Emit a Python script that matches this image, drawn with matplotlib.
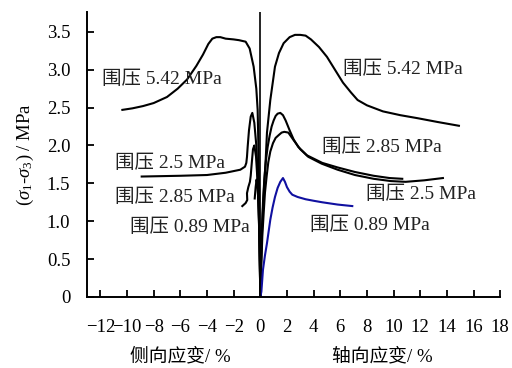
import matplotlib
matplotlib.use("Agg")
import matplotlib.pyplot as plt

plt.rcParams['font.family'] = ['Liberation Serif', 'Noto Sans CJK SC']
plt.rcParams['mathtext.fontset'] = 'custom'
plt.rcParams['mathtext.rm'] = 'Liberation Serif'
plt.rcParams['mathtext.it'] = 'Liberation Serif:italic'

# 5.42 MPa
lat_542_x = [0, -0.05, -0.1, -0.15, -0.2, -0.3, -0.5, -0.8, -1.1, -1.6, -2.0, -2.6, -3.0, -3.3, -3.6, -3.9, -4.3, -4.8, -5.5, -6.2, -7.0, -8.0, -8.8, -9.6, -10.35]
lat_542_y = [0, 0.8, 1.5, 2.05, 2.47, 2.75, 3.04, 3.28, 3.37, 3.39, 3.40, 3.41, 3.43, 3.43, 3.41, 3.34, 3.2, 3.05, 2.87, 2.75, 2.64, 2.56, 2.52, 2.49, 2.47]
ax_542_x = [0, 0.05, 0.1, 0.18, 0.28, 0.4, 0.5, 0.75, 1.1, 1.4, 1.75, 2.2, 2.6, 3.0, 3.4, 3.8, 4.4, 5.0, 5.6, 6.2, 6.8, 7.3, 8.0, 9.2, 10.5, 11.8, 13.3, 14.9]
ax_542_y = [0, 0.4, 0.75, 1.1, 1.45, 1.8, 2.17, 2.6, 3.04, 3.22, 3.35, 3.43, 3.46, 3.46, 3.45, 3.4, 3.3, 3.17, 3.0, 2.83, 2.7, 2.6, 2.53, 2.45, 2.4, 2.36, 2.31, 2.26]

# 2.5 MPa
lat_25_x = [0, -0.04, -0.08, -0.13, -0.2, -0.3, -0.45, -0.6, -0.72, -0.85, -0.95, -1.0, -1.05, -1.15, -1.5, -2.6, -4.0, -6.0, -8.9]
lat_25_y = [0, 0.5, 0.9, 1.25, 1.6, 2.0, 2.3, 2.43, 2.38, 2.2, 1.98, 1.85, 1.77, 1.72, 1.68, 1.64, 1.61, 1.6, 1.59]
ax_25_x = [0, 0.05, 0.12, 0.2, 0.3, 0.42, 0.55, 0.7, 0.85, 1.0, 1.15, 1.3, 1.5, 1.7, 1.9, 2.2, 2.5, 2.85, 3.5, 4.65, 5.8, 7.1, 8.5, 9.7, 10.65]
ax_25_y = [0, 0.45, 0.9, 1.25, 1.55, 1.8, 1.98, 2.13, 2.25, 2.33, 2.39, 2.42, 2.43, 2.4, 2.33, 2.2, 2.08, 1.98, 1.87, 1.77, 1.71, 1.65, 1.6, 1.57, 1.56]

# 2.85 MPa
lat_285_x = [0, -0.04, -0.08, -0.14, -0.2, -0.32, -0.45, -0.55, -0.65, -0.72, -0.78, -0.9, -1.0, -0.98, -1.1, -1.35]
lat_285_y = [0, 0.45, 0.85, 1.2, 1.5, 1.85, 2.0, 1.95, 1.75, 1.6, 1.52, 1.45, 1.37, 1.28, 1.24, 1.2]
ax_285_x = [0, 0.07, 0.15, 0.25, 0.35, 0.48, 0.6, 0.75, 0.95, 1.15, 1.4, 1.6, 1.8, 2.1, 2.5, 3.0, 3.6, 4.6, 5.8, 7.1, 8.5, 9.8, 10.9, 12.3, 13.7]
ax_285_y = [0, 0.4, 0.8, 1.1, 1.38, 1.6, 1.78, 1.92, 2.03, 2.1, 2.14, 2.17, 2.18, 2.17, 2.07, 1.95, 1.85, 1.76, 1.68, 1.61, 1.56, 1.53, 1.52, 1.54, 1.57]

# 0.89 MPa
lat_089_x = [0, -0.06, -0.12, -0.2, -0.28, -0.35, -0.42]
lat_089_y = [0, 0.7, 1.15, 1.45, 1.55, 1.45, 1.3]
ax_089_x = [0, 0.08, 0.2, 0.35, 0.5, 0.75, 0.92, 1.1, 1.3, 1.5, 1.7, 1.85, 2.0, 2.2, 2.4, 2.8, 3.4, 4.0, 4.65, 5.8, 6.9]
ax_089_y = [0, 0.07, 0.36, 0.55, 0.71, 1.02, 1.18, 1.32, 1.44, 1.52, 1.57, 1.52, 1.45, 1.39, 1.35, 1.32, 1.29, 1.27, 1.25, 1.22, 1.2]

labels = ['围压 5.42 MPa', '围压 5.42 MPa', '围压 2.5 MPa', '围压 2.85 MPa',
          '围压 2.85 MPa', '围压 2.5 MPa', '围压 0.89 MPa', '围压 0.89 MPa']
label_x = [-11.85, 6.2, -10.9, 4.6, -10.9, 7.9, -9.75, 3.75]
label_y = [2.87, 3.01, 1.77, 1.98, 1.32, 1.35, 0.92, 0.94]

xticks = list(range(-12, 19, 2))
yticks = [0, 0.5, 1.0, 1.5, 2.0, 2.5, 3.0, 3.5]

fig = plt.figure(figsize=(5.12, 3.68), dpi=100)
ax = fig.add_axes([0.170, 0.193, 0.807, 0.774])

lw = 1.5
for xs, ys in [(lat_542_x, lat_542_y), (ax_542_x, ax_542_y),
               (lat_25_x, lat_25_y), (ax_25_x, ax_25_y),
               (lat_285_x, lat_285_y), (ax_285_x, ax_285_y),
               (lat_089_x, lat_089_y)]:
    ax.plot(xs, ys, color='black', lw=lw)
ax.plot(ax_089_x, ax_089_y, color='#1010a0', lw=lw)

ax.axvline(0, color='black', lw=1.2)

for t, x, y in zip(labels, label_x, label_y):
    ax.text(x, y, t, fontsize=14, ha='left', va='center', color='#222222')

ax.set_xlim(-13, 18)
ax.set_ylim(0, 3.76)
ax.set_xticks(xticks)
ax.set_xticklabels([f'{v}'.replace('-', '\u2212') for v in xticks])
ax.set_yticks(yticks)
ax.set_yticklabels(['0' if v == 0 else f'{v:.1f}' for v in yticks])
ax.tick_params(direction='in', length=5, width=1.3, labelsize=13.5)
ax.tick_params(axis='x', pad=16)
ax.tick_params(axis='y', pad=12)
for s in ['top', 'right']:
    ax.spines[s].set_visible(False)
for s in ['left', 'bottom']:
    ax.spines[s].set_linewidth(1.4)

ax.set_ylabel(r'($\sigma_1$-$\sigma_3$) / MPa', fontsize=13.5, labelpad=8)
fig.text(180 / 512, 1 - 357 / 368, '侧向应变/ %', fontsize=13.5, ha='center', va='center')
fig.text(382 / 512, 1 - 357 / 368, '轴向应变/ %', fontsize=13.5, ha='center', va='center')

fig.savefig('out.png', dpi=100)
